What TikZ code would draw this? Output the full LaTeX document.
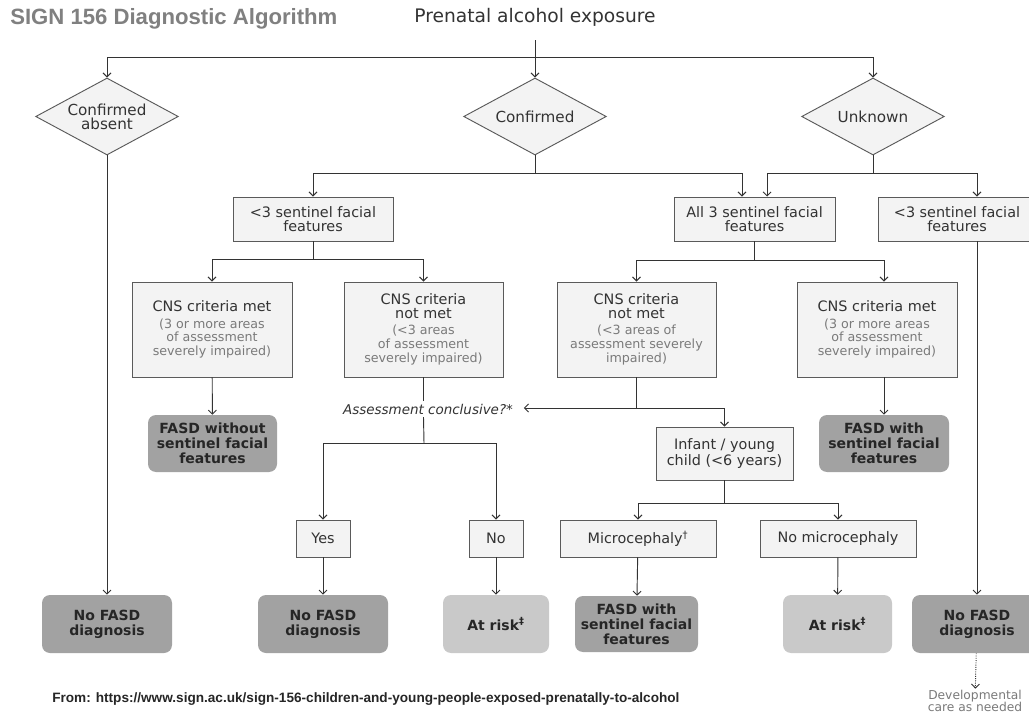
\documentclass[tikz,border=0pt]{standalone}
\usepackage{fontspec}
\setmainfont{DejaVu Sans}
\newfontfamily\arialfont{Liberation Sans}
\usetikzlibrary{shapes.geometric,arrows.meta}

\definecolor{boxfill}{HTML}{F3F3F3}
\definecolor{boxline}{HTML}{5A5A5A}
\definecolor{darkend}{HTML}{A2A2A2}
\definecolor{lightend}{HTML}{C9C9C9}
\definecolor{subgray}{HTML}{7A7A7A}
\definecolor{inkgray}{HTML}{333333}
\definecolor{titlegray}{HTML}{808080}

\newcommand{\cnssub}{\fontsize{9.5}{9.75}\selectfont\color{subgray}}

\begin{document}
\begin{tikzpicture}[x=0.75pt,y=-0.75pt,
  line/.style={draw=inkgray,line width=0.7pt},
  arr/.style={line,-{Straight Barb[length=3pt,width=6pt]}},
  box/.style={draw=boxline,fill=boxfill,line width=0.7pt,align=center,
    text=inkgray,inner sep=0pt,font=\fontsize{10.8}{10.2}\selectfont},
  query/.style={diamond,aspect=1.86,draw=boxline,fill=boxfill,line width=0.7pt,
    align=center,text=inkgray,inner sep=0pt,minimum width=107pt,
    minimum height=57.75pt,font=\fontsize{11.4}{10.5}\selectfont},
  endbox/.style={rounded corners=6pt,fill=darkend,text=black!85,align=center,
    inner sep=0pt,font=\bfseries\fontsize{10.5}{11.25}\selectfont},
  riskbox/.style={endbox,fill=lightend}]
  \useasboundingbox[fill=white] (0,0) rectangle (1029,713);
  \clip (0,0) rectangle (1029,713);

  % heading
  \node[font=\arialfont\bfseries\fontsize{16.6}{18}\selectfont,text=titlegray,
    anchor=west,inner sep=0pt] (title) at (10,19) {SIGN 156 Diagnostic Algorithm};
  \node[font=\fontsize{14}{15}\selectfont,text=inkgray,inner sep=0pt]
    (prenatal) at (535,17) {Prenatal alcohol exposure};

  % exposure
  \node[query] (absent) at (107,116.5) {Confirmed\\absent};
  \node[query] (confirmed) at (535,116.5) {Confirmed};
  \node[query] (unknown) at (873,116.5) {Unknown};

  % facial features
  \node[box,minimum width=120pt,minimum height=33pt] (lsent) at (313,219)
    {<3 sentinel facial\\features};
  \node[box,minimum width=120.75pt,minimum height=33pt] (allsent) at (754.5,219)
    {All 3 sentinel facial\\features};
  \node[box,minimum width=118.5pt,minimum height=33pt] (rsent) at (957,219)
    {<3 sentinel facial\\features};

  % CNS
  \node[box,minimum width=120pt,minimum height=71.25pt] (lmet) at (212,329.5)
    {CNS criteria met\\[2pt]\cnssub (3 or more areas\\\cnssub of assessment\\
     \cnssub severely impaired)};
  \node[box,minimum width=119.25pt,minimum height=71.25pt,
    font=\fontsize{10.8}{10.5}\selectfont] (lnot) at (423.5,329.5)
    {CNS criteria\\not met\\[2pt]\cnssub (<3 areas\\\cnssub of assessment\\
     \cnssub severely impaired)};
  \node[box,minimum width=119.25pt,minimum height=71.25pt,
    font=\fontsize{10.8}{10.5}\selectfont] (rnot) at (636.5,329.5)
    {CNS criteria\\not met\\[2pt]\cnssub (<3 areas of\\\cnssub assessment severely\\
     \cnssub impaired)};
  \node[box,minimum width=120pt,minimum height=71.25pt] (rmet) at (877,329.5)
    {CNS criteria met\\[2pt]\cnssub (3 or more areas\\\cnssub of assessment\\
     \cnssub severely impaired)};

  \node[endbox,minimum width=96.75pt,minimum height=42.75pt] (without) at (212.5,443.5)
    {FASD without\\sentinel facial\\features};
  \node[endbox,minimum width=97.5pt,minimum height=42.75pt] (withfaces) at (884,443.5)
    {FASD with\\sentinel facial\\features};

  \node[font=\itshape\fontsize{10.1}{11}\selectfont,text=inkgray,inner sep=2pt]
    (assess) at (428,409) {Assessment conclusive?*};
  \node[box,minimum width=102.75pt,minimum height=39.75pt] (infant) at (724.5,453.5)
    {Infant / young\\child (<6 years)};

  \node[box,minimum width=40.5pt,minimum height=27.75pt] (yes) at (323,538.5) {Yes};
  \node[box,minimum width=40.5pt,minimum height=27.75pt] (no) at (496,538.5) {No};
  \node[box,minimum width=117pt,minimum height=27.75pt] (micro) at (638,538.5)
    {Microcephaly\textsuperscript{†}};
  \node[box,minimum width=117pt,minimum height=27.75pt] (nomicro) at (838,538.5)
    {No microcephaly};

  % outcomes
  \node[endbox,minimum width=97.5pt,minimum height=43.5pt] (nofasdl) at (107,624)
    {No FASD\\diagnosis};
  \node[endbox,minimum width=97.5pt,minimum height=43.5pt] (nofasdm) at (323,624)
    {No FASD\\diagnosis};
  \node[riskbox,minimum width=79.5pt,minimum height=43.5pt] (riskl) at (496,624)
    {At risk\textsuperscript{‡}};
  \node[endbox,minimum width=92.25pt,minimum height=42pt] (withmicro) at (636.5,624)
    {FASD with\\sentinel facial\\features};
  \node[riskbox,minimum width=81.75pt,minimum height=43.5pt] (riskr) at (837.5,624)
    {At risk\textsuperscript{‡}};
  \node[endbox,minimum width=97.5pt,minimum height=43.5pt] (nofasdr) at (977,624)
    {No FASD\\diagnosis};

  \node[font=\fontsize{9.2}{9}\selectfont,text=subgray,align=center,inner sep=1pt]
    (devcare) at (975,701) {Developmental\\care as needed};
  \node[font=\arialfont\bfseries\fontsize{10.2}{11}\selectfont,text=black!85,
    anchor=west,inner sep=0pt] (source) at (52,699)
    {From: https://www.sign.ac.uk/sign-156-children-and-young-people-exposed-prenatally-to-alcohol};

  % connectors
  \coordinate (split) at (535,57);
  \draw[arr] ([yshift=-10.5pt]prenatal.south) -- (confirmed.north);
  \draw[arr] (split) -| (absent.north);
  \draw[arr] (split) -| (unknown.north);
  \draw[arr] (absent) -- (nofasdl);

  \coordinate (cfork) at (535,173);
  \draw[line] (confirmed.south) -- (cfork);
  \draw[arr] (cfork) -| (lsent.north);
  \draw[arr] (cfork) -| ([xshift=-9.4pt]allsent.north);
  \coordinate (ufork) at (873,173);
  \draw[line] (unknown.south) -- (ufork);
  \draw[arr] (ufork) -| ([xshift=9.4pt]allsent.north);
  \draw[arr] (ufork) -| (nofasdr |- rsent.north);
  \draw[arr] (rsent.south -| nofasdr) -- (nofasdr);

  \coordinate (lfork) at (313,259);
  \draw[line] (lsent) -- (lfork);
  \draw[arr] (lfork) -| (lmet.north);
  \draw[arr] (lfork) -| (lnot.north);
  \coordinate (afork) at (754.5,260);
  \draw[line] (allsent) -- (afork);
  \draw[arr] (afork) -| (rnot.north);
  \draw[arr] (afork) -| (withfaces |- rmet.north);

  \draw[arr] (lmet) -- (without);
  \draw[arr] (rmet.south -| withfaces) -- (withfaces);

  \draw[line] (lnot.south) -- (lnot.south |- assess.north);
  \coordinate (ynfork) at (424,443);
  \draw[line] (assess.south -| lnot.south) -- (ynfork);
  \draw[arr] (ynfork) -| (yes.north);
  \draw[arr] (ynfork) -| (no.north);
  \draw[arr] (yes) -- (nofasdm);
  \draw[arr] (no) -- (riskl);

  \coordinate (rnfork) at (636.5,408);
  \draw[line] (rnot.south) -- (rnfork);
  \draw[arr,shorten >=6pt] (rnfork) -- (assess.east |- rnfork);
  \draw[arr] (rnfork) -| (infant.north);
  \coordinate (ifork) at (724.5,503);
  \draw[line] (infant) -- (ifork);
  \draw[arr] (ifork) -| (micro.north);
  \draw[arr] (ifork) -| (nomicro.north);
  \draw[arr] (micro) -- (withmicro);
  \draw[arr] (nomicro) -- (riskr);
  \draw[arr,densely dotted] (nofasdr) -- (devcare);
\end{tikzpicture}
\end{document}
